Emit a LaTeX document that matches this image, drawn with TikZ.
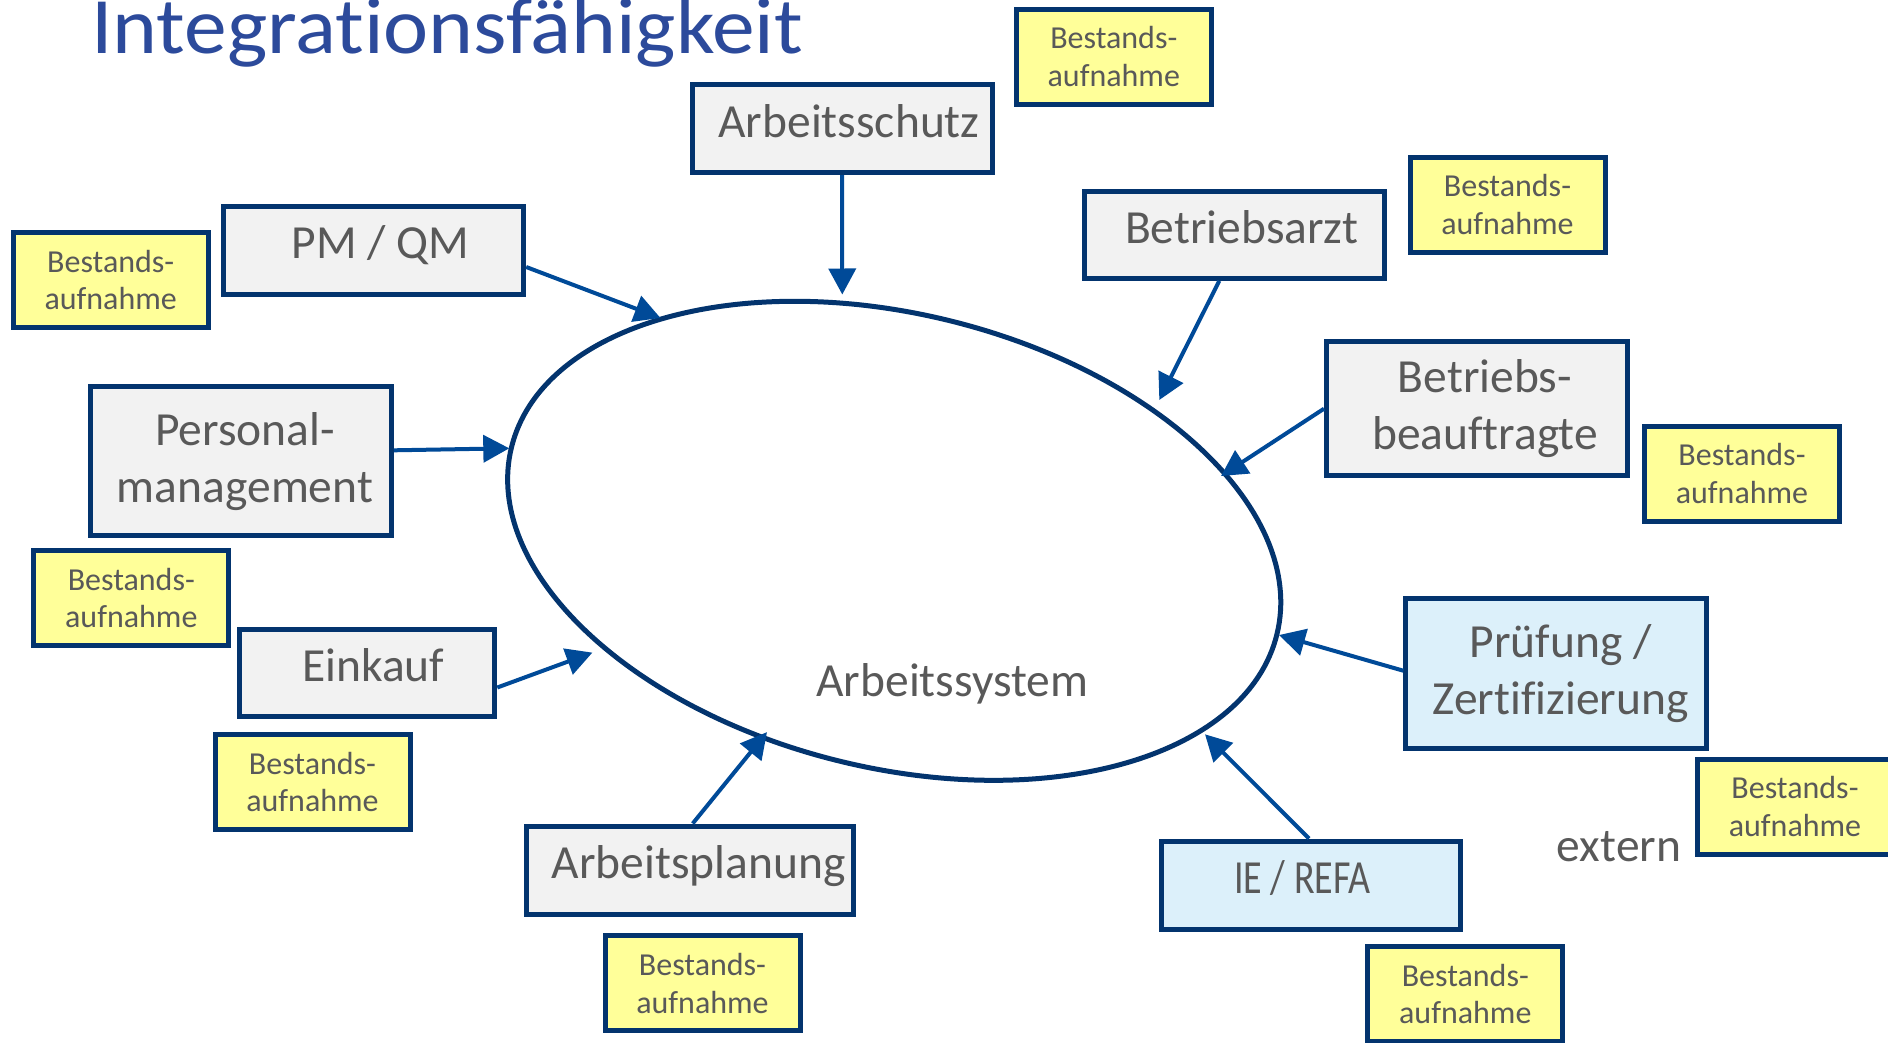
\documentclass[tikz,border=0pt]{standalone}
\usepackage{fontspec}
\usepackage{graphicx}
\setmainfont{Carlito}[Ligatures=NoCommon]
\usetikzlibrary{arrows.meta,shapes.geometric}

\definecolor{titleblue}{RGB}{44,74,155}
\definecolor{navy}{RGB}{3,52,110}
\definecolor{arrowblue}{RGB}{0,74,152}
\definecolor{textgray}{RGB}{89,89,89}
\definecolor{boxgray}{RGB}{242,242,242}
\definecolor{notefill}{RGB}{255,255,153}
\definecolor{extfill}{RGB}{220,240,250}

% indent used to push box labels slightly off centre
\newcommand\lpad[1]{\hspace*{#1}}

\begin{document}
\begin{tikzpicture}[x=1pt,y=-1pt,
  unit/.style={draw=navy, line width=5pt, fill=boxgray, text=textgray,
    inner sep=0pt, font=\fontsize{47.5}{57}\selectfont},
  oneline/.style={unit, text height=32pt, text depth=15pt},
  twoline/.style={unit, align=center},
  pushright/.style={execute at begin node={\lpad{#1}}},
  pushleft/.style={execute at end node={\lpad{#1}}},
  ext/.style={fill=extfill},
  note/.style={draw=navy, line width=5pt, fill=notefill, text=textgray,
    inner sep=0pt, align=center, minimum width=195pt, minimum height=95pt,
    font=\fontsize{32}{37.5}\selectfont},
  link/.style={draw=arrowblue, line width=4pt,
    -{Triangle[length=26pt,width=27pt]}},
  plain/.style={text=textgray, inner sep=0pt, font=\fontsize{47.5}{57}\selectfont}
]
\useasboundingbox (0,0) rectangle (1888,1042);
\clip (0,0) rectangle (1888,1042);

% heading
\node[anchor=base west, inner sep=0pt, text=titleblue, xscale=1.068,
      font=\fontsize{80}{96}\selectfont] (title) at (91,53.3) {Integrationsfähigkeit};

% the work system
\node[draw=navy, line width=5pt, ellipse, inner sep=0pt,
      minimum width=788pt, minimum height=454pt, rotate=-13.7] (sys) at (894.2,540.8) {};
\node[plain, anchor=base] (syslabel) at (952.3,696.7) {Arbeitssystem};

% departments around it
\node[oneline, pushright=14pt, minimum width=300pt, minimum height=88pt] (as) at (842,128.5) {Arbeitsschutz};
\node[oneline, pushright=14pt, minimum width=300pt, minimum height=87pt] (ba) at (1234.8,234.8) {Betriebsarzt};
\node[oneline, pushright=14pt, minimum width=300pt, minimum height=88pt] (pm) at (373.7,250) {PM / QM};
\node[twoline, minimum width=301pt, minimum height=149pt] (pers) at (241,461.3)
  {\lpad{8pt}Personal-\\\lpad{8pt}management};
\node[twoline, minimum width=301pt, minimum height=134pt] (bb) at (1477,408.7)
  {\lpad{16pt}Betriebs-\\\lpad{16pt}beauftragte};
\node[oneline, pushright=12pt, minimum width=255pt, minimum height=87pt] (ek) at (367.3,673) {Einkauf};
\node[twoline, ext, minimum width=301pt, minimum height=150pt] (pz) at (1556.3,673.3)
  {\lpad{9pt}Prüfung /\\\lpad{9pt}Zertifizierung};
\node[oneline, pushright=18pt, minimum width=327pt, minimum height=88pt] (ap) at (689.7,870) {Arbeitsplanung};
\node[oneline, ext, pushleft=17pt, minimum width=299pt, minimum height=88pt] (ie) at (1311,885)
  {\scalebox{0.8}[1]{IE / REFA}};
\node[plain, anchor=base] (extern) at (1619,861.7) {extern};

% inventory notes
\node[note] (n1) at (1113.8,56.6) {Bestands-\\aufnahme};
\node[note] (n2) at (1507.5,204.5) {Bestands-\\aufnahme};
\node[note] (n3) at (110.7,280) {Bestands-\\aufnahme};
\node[note] (n4) at (1742,473.7) {Bestands-\\aufnahme};
\node[note] (n5) at (131.3,597.8) {Bestands-\\aufnahme};
\node[note] (n6) at (312.5,782) {Bestands-\\aufnahme};
\node[note] (n7) at (1795,806.5) {Bestands-\\aufnahme};
\node[note] (n8) at (702.5,983.3) {Bestands-\\aufnahme};
\node[note] (n9) at (1465.3,994) {Bestands-\\aufnahme};

% arrow targets on the system
\coordinate (t-as) at (842.3,294.5);
\coordinate (t-ba) at (1159.3,400);
\coordinate (t-pm) at (660.5,318);
\coordinate (t-pers) at (509.3,448.3);
\coordinate (t-bb) at (1221,476);
\coordinate (t-ek) at (592.4,652.6);
\coordinate (t-pz) at (1279,635);
\coordinate (t-ap) at (767,732.1);
\coordinate (t-ie) at (1205,734.3);

% influences
\draw[link] (as.south) -- (t-as);
\draw[link] ([xshift=-15.5pt]ba.south) -- (t-ba);
\draw[link] ([yshift=-17pt]pm.east) -- (t-pm);
\draw[link] ([yshift=11pt]pers.east) -- (t-pers);
\draw[link] (bb.west) -- (t-bb);
\draw[link] ([yshift=-14.5pt]ek.east) -- (t-ek);
\draw[link] ([yshift=2.6pt]pz.west) -- (t-pz);
\draw[link] ([xshift=3pt]ap.north) -- (t-ap);
\draw[link] ([xshift=-2pt]ie.north) -- (t-ie);
\end{tikzpicture}
\end{document}
